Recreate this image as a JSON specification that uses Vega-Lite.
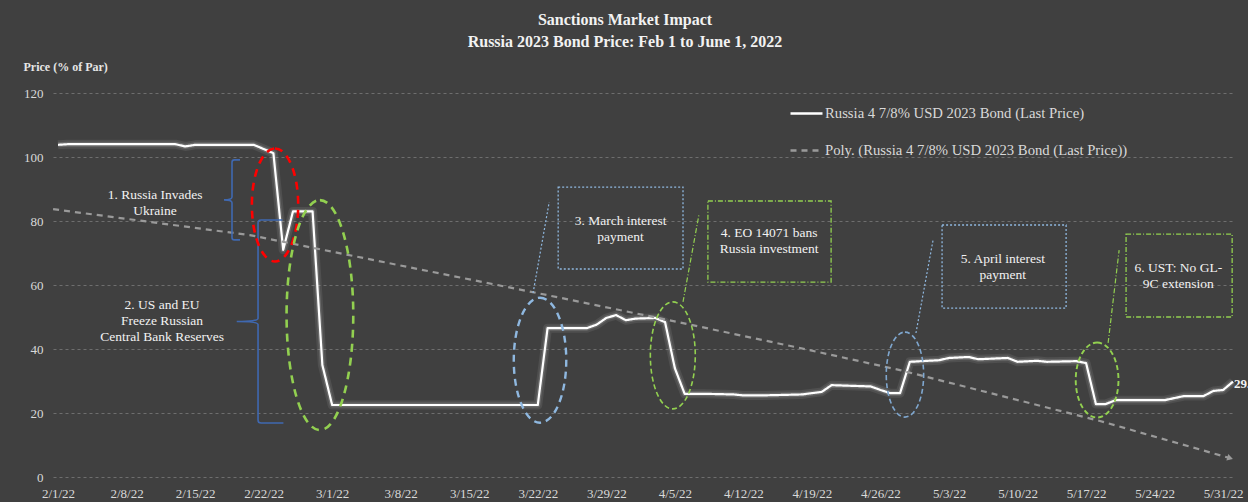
{
  "$schema": "https://vega.github.io/schema/vega-lite/v6.json",
  "width": 1182,
  "height": 384,
  "autosize": {"type": "none"},
  "padding": {"left": 53, "top": 93, "right": 13, "bottom": 25},
  "background": "#404040",
  "title": {
    "text": ["Sanctions Market Impact", "Russia 2023 Bond Price: Feb  1 to June 1, 2022"],
    "font": "Liberation Serif",
    "fontSize": 16,
    "fontWeight": "bold",
    "color": "#f2f2f2",
    "anchor": "middle",
    "frame": "group",
    "dx": -19,
    "offset": 10,
    "lineHeight": 22
  },
  "config": {
    "view": {"stroke": null},
    "axis": {"labelFont": "Liberation Serif", "labelColor": "#d9d9d9", "labelFontSize": 13, "ticks": false, "domain": false}
  },
  "datasets": {
    "series": [
      {"series": "Russia 4 7/8% USD 2023 Bond (Last Price)", "date": "2022-02-01", "value": 103.8},
      {"series": "Russia 4 7/8% USD 2023 Bond (Last Price)", "date": "2022-02-02", "value": 104},
      {"series": "Russia 4 7/8% USD 2023 Bond (Last Price)", "date": "2022-02-04", "value": 104},
      {"series": "Russia 4 7/8% USD 2023 Bond (Last Price)", "date": "2022-02-08", "value": 104},
      {"series": "Russia 4 7/8% USD 2023 Bond (Last Price)", "date": "2022-02-11", "value": 104},
      {"series": "Russia 4 7/8% USD 2023 Bond (Last Price)", "date": "2022-02-13", "value": 104},
      {"series": "Russia 4 7/8% USD 2023 Bond (Last Price)", "date": "2022-02-14", "value": 103.3},
      {"series": "Russia 4 7/8% USD 2023 Bond (Last Price)", "date": "2022-02-15", "value": 103.8},
      {"series": "Russia 4 7/8% USD 2023 Bond (Last Price)", "date": "2022-02-17", "value": 103.8},
      {"series": "Russia 4 7/8% USD 2023 Bond (Last Price)", "date": "2022-02-21", "value": 103.8},
      {"series": "Russia 4 7/8% USD 2023 Bond (Last Price)", "date": "2022-02-22", "value": 102.5},
      {"series": "Russia 4 7/8% USD 2023 Bond (Last Price)", "date": "2022-02-23", "value": 101.2},
      {"series": "Russia 4 7/8% USD 2023 Bond (Last Price)", "date": "2022-02-24", "value": 71},
      {"series": "Russia 4 7/8% USD 2023 Bond (Last Price)", "date": "2022-02-25", "value": 83},
      {"series": "Russia 4 7/8% USD 2023 Bond (Last Price)", "date": "2022-02-27", "value": 83},
      {"series": "Russia 4 7/8% USD 2023 Bond (Last Price)", "date": "2022-02-28", "value": 35},
      {"series": "Russia 4 7/8% USD 2023 Bond (Last Price)", "date": "2022-03-01", "value": 22.5},
      {"series": "Russia 4 7/8% USD 2023 Bond (Last Price)", "date": "2022-03-08", "value": 22.5},
      {"series": "Russia 4 7/8% USD 2023 Bond (Last Price)", "date": "2022-03-15", "value": 22.5},
      {"series": "Russia 4 7/8% USD 2023 Bond (Last Price)", "date": "2022-03-22", "value": 22.5},
      {"series": "Russia 4 7/8% USD 2023 Bond (Last Price)", "date": "2022-03-23", "value": 46.5},
      {"series": "Russia 4 7/8% USD 2023 Bond (Last Price)", "date": "2022-03-25", "value": 46.5},
      {"series": "Russia 4 7/8% USD 2023 Bond (Last Price)", "date": "2022-03-27", "value": 46.5},
      {"series": "Russia 4 7/8% USD 2023 Bond (Last Price)", "date": "2022-03-28", "value": 47.6},
      {"series": "Russia 4 7/8% USD 2023 Bond (Last Price)", "date": "2022-03-29", "value": 49.7},
      {"series": "Russia 4 7/8% USD 2023 Bond (Last Price)", "date": "2022-03-30", "value": 50.6},
      {"series": "Russia 4 7/8% USD 2023 Bond (Last Price)", "date": "2022-03-31", "value": 49},
      {"series": "Russia 4 7/8% USD 2023 Bond (Last Price)", "date": "2022-04-01", "value": 49.5},
      {"series": "Russia 4 7/8% USD 2023 Bond (Last Price)", "date": "2022-04-03", "value": 49.7},
      {"series": "Russia 4 7/8% USD 2023 Bond (Last Price)", "date": "2022-04-04", "value": 48.4},
      {"series": "Russia 4 7/8% USD 2023 Bond (Last Price)", "date": "2022-04-05", "value": 34},
      {"series": "Russia 4 7/8% USD 2023 Bond (Last Price)", "date": "2022-04-06", "value": 26},
      {"series": "Russia 4 7/8% USD 2023 Bond (Last Price)", "date": "2022-04-08", "value": 26},
      {"series": "Russia 4 7/8% USD 2023 Bond (Last Price)", "date": "2022-04-11", "value": 25.8},
      {"series": "Russia 4 7/8% USD 2023 Bond (Last Price)", "date": "2022-04-12", "value": 25.5},
      {"series": "Russia 4 7/8% USD 2023 Bond (Last Price)", "date": "2022-04-14", "value": 25.5},
      {"series": "Russia 4 7/8% USD 2023 Bond (Last Price)", "date": "2022-04-18", "value": 25.8},
      {"series": "Russia 4 7/8% USD 2023 Bond (Last Price)", "date": "2022-04-19", "value": 26.2},
      {"series": "Russia 4 7/8% USD 2023 Bond (Last Price)", "date": "2022-04-20", "value": 26.6},
      {"series": "Russia 4 7/8% USD 2023 Bond (Last Price)", "date": "2022-04-21", "value": 28.7},
      {"series": "Russia 4 7/8% USD 2023 Bond (Last Price)", "date": "2022-04-25", "value": 28.3},
      {"series": "Russia 4 7/8% USD 2023 Bond (Last Price)", "date": "2022-04-26", "value": 27.2},
      {"series": "Russia 4 7/8% USD 2023 Bond (Last Price)", "date": "2022-04-27", "value": 26.2},
      {"series": "Russia 4 7/8% USD 2023 Bond (Last Price)", "date": "2022-04-28", "value": 26.2},
      {"series": "Russia 4 7/8% USD 2023 Bond (Last Price)", "date": "2022-04-29", "value": 36},
      {"series": "Russia 4 7/8% USD 2023 Bond (Last Price)", "date": "2022-05-02", "value": 36.5},
      {"series": "Russia 4 7/8% USD 2023 Bond (Last Price)", "date": "2022-05-03", "value": 37.2},
      {"series": "Russia 4 7/8% USD 2023 Bond (Last Price)", "date": "2022-05-05", "value": 37.5},
      {"series": "Russia 4 7/8% USD 2023 Bond (Last Price)", "date": "2022-05-06", "value": 36.8},
      {"series": "Russia 4 7/8% USD 2023 Bond (Last Price)", "date": "2022-05-09", "value": 37.2},
      {"series": "Russia 4 7/8% USD 2023 Bond (Last Price)", "date": "2022-05-10", "value": 36},
      {"series": "Russia 4 7/8% USD 2023 Bond (Last Price)", "date": "2022-05-12", "value": 36.3},
      {"series": "Russia 4 7/8% USD 2023 Bond (Last Price)", "date": "2022-05-13", "value": 36},
      {"series": "Russia 4 7/8% USD 2023 Bond (Last Price)", "date": "2022-05-16", "value": 36.2},
      {"series": "Russia 4 7/8% USD 2023 Bond (Last Price)", "date": "2022-05-17", "value": 35.6},
      {"series": "Russia 4 7/8% USD 2023 Bond (Last Price)", "date": "2022-05-18", "value": 22.8},
      {"series": "Russia 4 7/8% USD 2023 Bond (Last Price)", "date": "2022-05-19", "value": 22.8},
      {"series": "Russia 4 7/8% USD 2023 Bond (Last Price)", "date": "2022-05-20", "value": 24},
      {"series": "Russia 4 7/8% USD 2023 Bond (Last Price)", "date": "2022-05-25", "value": 24},
      {"series": "Russia 4 7/8% USD 2023 Bond (Last Price)", "date": "2022-05-27", "value": 25.3},
      {"series": "Russia 4 7/8% USD 2023 Bond (Last Price)", "date": "2022-05-29", "value": 25.3},
      {"series": "Russia 4 7/8% USD 2023 Bond (Last Price)", "date": "2022-05-30", "value": 26.9},
      {"series": "Russia 4 7/8% USD 2023 Bond (Last Price)", "date": "2022-05-31", "value": 27.2},
      {"series": "Russia 4 7/8% USD 2023 Bond (Last Price)", "date": "2022-06-01", "value": 29.8},
      {"series": "Poly. (Russia 4 7/8% USD 2023 Bond (Last Price))", "date": "2022-01-31T12:00:00Z", "value": 83.7},
      {"series": "Poly. (Russia 4 7/8% USD 2023 Bond (Last Price))", "date": "2022-02-20T14:00:00Z", "value": 75.6},
      {"series": "Poly. (Russia 4 7/8% USD 2023 Bond (Last Price))", "date": "2022-03-21T22:00:00Z", "value": 57.5},
      {"series": "Poly. (Russia 4 7/8% USD 2023 Bond (Last Price))", "date": "2022-04-05T12:00:00Z", "value": 48.3},
      {"series": "Poly. (Russia 4 7/8% USD 2023 Bond (Last Price))", "date": "2022-04-17T19:00:00Z", "value": 40.3},
      {"series": "Poly. (Russia 4 7/8% USD 2023 Bond (Last Price))", "date": "2022-04-28T00:00:00Z", "value": 33.4},
      {"series": "Poly. (Russia 4 7/8% USD 2023 Bond (Last Price))", "date": "2022-05-18T10:00:00Z", "value": 17.5},
      {"series": "Poly. (Russia 4 7/8% USD 2023 Bond (Last Price))", "date": "2022-05-31T17:00:00Z", "value": 5.9}
    ],
    "notes": [
      {"id": "t1", "date": "2022-02-10T22:00:00Z", "value": 88.1, "label": "1. Russia Invades\nUkraine"},
      {"id": "t2", "date": "2022-02-11T15:00:00Z", "value": 53.75, "label": "2. US and EU\nFreeze Russian\nCentral Bank Reserves"},
      {"id": "t3", "date": "2022-03-30T11:00:00Z", "value": 80, "label": "3. March interest\npayment"},
      {"id": "t4", "date": "2022-04-14T15:00:00Z", "value": 76.25, "label": "4. EO 14071 bans\nRussia investment"},
      {"id": "t5", "date": "2022-05-08T12:00:00Z", "value": 68.1, "label": "5. April interest\npayment"},
      {"id": "t6", "date": "2022-05-26T10:00:00Z", "value": 65.3, "label": "6. UST: No GL-\n9C extension"},
      {"id": "brace1", "date": "2022-02-18T18:30:00Z", "value": 86.6},
      {"id": "brace2", "date": "2022-02-21T10:20:00Z", "value": 48.6},
      {"id": "ell1", "date": "2022-02-23T04:00:00Z", "value": 85},
      {"id": "ell2", "date": "2022-02-27T18:00:00Z", "value": 50.6},
      {"id": "ell3", "date": "2022-03-22T05:30:00Z", "value": 36.5},
      {"id": "ell4", "date": "2022-04-04T19:00:00Z", "value": 38},
      {"id": "ell5", "date": "2022-04-28T12:00:00Z", "value": 32},
      {"id": "ell6", "date": "2022-05-18T03:00:00Z", "value": 30.3},
      {"id": "boxblue", "date": "2022-03-24T02:00:00Z", "date2": "2022-04-05T20:00:00Z", "value": 90.6, "value2": 65},
      {"id": "boxgreen", "date": "2022-04-08T09:00:00Z", "date2": "2022-04-20T23:00:00Z", "value": 86.25, "value2": 60.9},
      {"id": "boxblue", "date": "2022-05-02T07:00:00Z", "date2": "2022-05-14T23:00:00Z", "value": 78.75, "value2": 52.8},
      {"id": "boxgreen", "date": "2022-05-21T02:00:00Z", "date2": "2022-05-31T22:00:00Z", "value": 75.9, "value2": 50},
      {"id": "leadblue", "date": "2022-03-21T12:30:00Z", "date2": "2022-03-23T04:00:00Z", "value": 57.5, "value2": 85.9},
      {"id": "leadgreen", "date": "2022-04-05T20:00:00Z", "date2": "2022-04-07T11:00:00Z", "value": 54.7, "value2": 81.9},
      {"id": "leadblue", "date": "2022-04-29T15:00:00Z", "date2": "2022-05-01T09:00:00Z", "value": 45, "value2": 74.1},
      {"id": "leadgreen", "date": "2022-05-19T06:00:00Z", "date2": "2022-05-20T09:00:00Z", "value": 41.9, "value2": 70.9},
      {"id": "arrow", "date": "2022-05-31T17:00:00Z", "value": 5.9}
    ]
  },
  "encoding": {
    "x": {
      "field": "date",
      "type": "temporal",
      "scale": {
        "type": "utc",
        "domain": [
          {"year": 2022, "month": 1, "date": 31, "hours": 11, "minutes": 45, "utc": true},
          {"year": 2022, "month": 6, "date": 1, "hours": 5, "utc": true}
        ]
      },
      "axis": {
        "title": null,
        "grid": false,
        "labelExpr": "utcFormat(datum.value, '%-m/%-d/%y')",
        "labelPadding": 10,
        "labelAngle": 0,
        "labelOverlap": false,
        "values": [
          {"year": 2022, "month": 2, "date": 1, "utc": true},
          {"year": 2022, "month": 2, "date": 8, "utc": true},
          {"year": 2022, "month": 2, "date": 15, "utc": true},
          {"year": 2022, "month": 2, "date": 22, "utc": true},
          {"year": 2022, "month": 3, "date": 1, "utc": true},
          {"year": 2022, "month": 3, "date": 8, "utc": true},
          {"year": 2022, "month": 3, "date": 15, "utc": true},
          {"year": 2022, "month": 3, "date": 22, "utc": true},
          {"year": 2022, "month": 3, "date": 29, "utc": true},
          {"year": 2022, "month": 4, "date": 5, "utc": true},
          {"year": 2022, "month": 4, "date": 12, "utc": true},
          {"year": 2022, "month": 4, "date": 19, "utc": true},
          {"year": 2022, "month": 4, "date": 26, "utc": true},
          {"year": 2022, "month": 5, "date": 3, "utc": true},
          {"year": 2022, "month": 5, "date": 10, "utc": true},
          {"year": 2022, "month": 5, "date": 17, "utc": true},
          {"year": 2022, "month": 5, "date": 24, "utc": true},
          {"year": 2022, "month": 5, "date": 31, "utc": true}
        ]
      }
    },
    "y": {
      "field": "value",
      "type": "quantitative",
      "scale": {"domain": [0, 120], "nice": false, "zero": true},
      "axis": {
        "title": "Price (% of Par)",
        "titleAngle": 0,
        "titleAlign": "left",
        "titleBaseline": "middle",
        "titleX": -30,
        "titleY": -27,
        "titleFont": "Liberation Serif",
        "titleFontSize": 12,
        "titleFontWeight": "bold",
        "titleColor": "#e6e6e6",
        "values": [0, 20, 40, 60, 80, 100, 120],
        "labelPadding": 10,
        "grid": true,
        "gridColor": "#6e6e6e",
        "gridDash": [3, 3],
        "gridWidth": 1
      }
    }
  },
  "layer": [
    {
      "data": {"name": "series"},
      "transform": [{"filter": "datum.series == 'Russia 4 7/8% USD 2023 Bond (Last Price)'"}],
      "mark": {"type": "line", "color": "#ffffff", "strokeWidth": 9, "opacity": 0.08, "strokeJoin": "round"}
    },
    {
      "data": {"name": "series"},
      "transform": [{"filter": "datum.series == 'Russia 4 7/8% USD 2023 Bond (Last Price)'"}],
      "mark": {"type": "line", "color": "#ffffff", "strokeWidth": 5, "opacity": 0.15, "strokeJoin": "round"}
    },
    {
      "data": {"name": "series"},
      "mark": {"type": "line", "strokeWidth": 2.2, "strokeJoin": "round"},
      "encoding": {
        "detail": {"field": "series"},
        "color": {
          "field": "series",
          "type": "nominal",
          "scale": {
            "domain": ["Russia 4 7/8% USD 2023 Bond (Last Price)", "Poly. (Russia 4 7/8% USD 2023 Bond (Last Price))"],
            "range": ["#ffffff", "#9a9a9a"]
          },
          "legend": {
            "title": null, "orient": "none", "legendX": 736, "legendY": 3, "direction": "vertical",
            "symbolType": "stroke", "symbolSize": 1024, "symbolStrokeWidth": 2.5,
            "labelFont": "Liberation Serif", "labelFontSize": 14.7, "labelColor": "#d9d9d9",
            "labelLimit": 500, "rowPadding": 12, "labelOffset": 1
          }
        },
        "strokeDash": {
          "field": "series",
          "type": "nominal",
          "scale": {
            "domain": ["Russia 4 7/8% USD 2023 Bond (Last Price)", "Poly. (Russia 4 7/8% USD 2023 Bond (Last Price))"],
            "range": [[1, 0], [6, 5]]
          },
          "legend": {
            "title": null, "orient": "none", "legendX": 736, "legendY": 3, "direction": "vertical",
            "symbolType": "stroke", "symbolSize": 1024, "symbolStrokeWidth": 2.5,
            "labelFont": "Liberation Serif", "labelFontSize": 14.7, "labelColor": "#d9d9d9",
            "labelLimit": 500, "rowPadding": 12, "labelOffset": 1
          }
        }
      }
    },
    {
      "data": {"name": "series"},
      "transform": [{"filter": "datum.series == 'Russia 4 7/8% USD 2023 Bond (Last Price)' && time(datum.date) > utc(2022, 4, 31, 12)"}],
      "mark": {"type": "text", "align": "left", "baseline": "middle", "dx": 1, "dy": 2, "font": "Liberation Serif", "fontSize": 13, "fontWeight": "bold", "color": "#f2f2f2"},
      "encoding": {"text": {"field": "value", "type": "quantitative", "format": ".1f"}}
    },
    {
      "data": {"name": "notes"},
      "transform": [{"filter": "datum.id == 'arrow'"}],
      "mark": {"type": "point", "shape": "triangle-right", "filled": true, "size": 45, "angle": 17, "color": "#9a9a9a", "opacity": 1}
    },
    {
      "data": {"name": "notes"},
      "transform": [{"filter": "datum.id == 'brace1'"}],
      "mark": {"type": "point", "shape": "M0.2,-1L0.06,-1Q0,-1,0,-0.94L0,-0.07Q0,0,-0.2,0Q0,0,0,0.07L0,0.94Q0,1,0.06,1L0.2,1", "size": 6400, "filled": false, "stroke": "#3f68b0", "strokeWidth": 1.6, "opacity": 1}
    },
    {
      "data": {"name": "notes"},
      "transform": [{"filter": "datum.id == 'brace2'"}],
      "mark": {"type": "point", "shape": "M0.24,-1L0.03,-1Q0,-1,0,-0.97L0,-0.03Q0,0,-0.21,0Q0,0,0,0.03L0,0.97Q0,1,0.03,1L0.25,1", "size": 41209, "filled": false, "stroke": "#3f68b0", "strokeWidth": 1.6, "opacity": 1}
    },
    {
      "data": {"name": "notes"},
      "transform": [{"filter": "datum.id == 'ell1'"}],
      "mark": {"type": "point", "shape": "M0,-1C0.226,-1,0.41,-0.552,0.41,0C0.41,0.552,0.226,1,0,1C-0.226,1,-0.41,0.552,-0.41,0C-0.41,-0.552,-0.226,-1,0,-1Z", "size": 12769, "filled": false, "stroke": "#ff0000", "strokeWidth": 2.6, "strokeDash": [8, 6], "opacity": 1}
    },
    {
      "data": {"name": "notes"},
      "transform": [{"filter": "datum.id == 'ell2'"}],
      "mark": {"type": "point", "shape": "M0,-1C0.16,-1,0.29,-0.552,0.29,0C0.29,0.552,0.16,1,0,1C-0.16,1,-0.29,0.552,-0.29,0C-0.29,-0.552,-0.16,-1,0,-1Z", "size": 52900, "filled": false, "stroke": "#92d050", "strokeWidth": 2.6, "strokeDash": [8, 6], "opacity": 1}
    },
    {
      "data": {"name": "notes"},
      "transform": [{"filter": "datum.id == 'ell3'"}],
      "mark": {"type": "point", "shape": "M0,-1C0.232,-1,0.42,-0.552,0.42,0C0.42,0.552,0.232,1,0,1C-0.232,1,-0.42,0.552,-0.42,0C-0.42,-0.552,-0.232,-1,0,-1Z", "size": 15625, "filled": false, "stroke": "#8fb8e0", "strokeWidth": 2.4, "strokeDash": [7, 5], "opacity": 1}
    },
    {
      "data": {"name": "notes"},
      "transform": [{"filter": "datum.id == 'ell4'"}],
      "mark": {"type": "point", "shape": "M0,-1C0.232,-1,0.42,-0.552,0.42,0C0.42,0.552,0.232,1,0,1C-0.232,1,-0.42,0.552,-0.42,0C-0.42,-0.552,-0.232,-1,0,-1Z", "size": 11449, "filled": false, "stroke": "#92d050", "strokeWidth": 1.6, "strokeDash": [5, 3], "opacity": 1}
    },
    {
      "data": {"name": "notes"},
      "transform": [{"filter": "datum.id == 'ell5'"}],
      "mark": {"type": "point", "shape": "M0,-1C0.243,-1,0.44,-0.552,0.44,0C0.44,0.552,0.243,1,0,1C-0.243,1,-0.44,0.552,-0.44,0C-0.44,-0.552,-0.243,-1,0,-1Z", "size": 7225, "filled": false, "stroke": "#7fa7cf", "strokeWidth": 1.6, "strokeDash": [5, 3], "opacity": 1}
    },
    {
      "data": {"name": "notes"},
      "transform": [{"filter": "datum.id == 'ell6'"}],
      "mark": {"type": "point", "shape": "M0,-1C0.315,-1,0.57,-0.552,0.57,0C0.57,0.552,0.315,1,0,1C-0.315,1,-0.57,0.552,-0.57,0C-0.57,-0.552,-0.315,-1,0,-1Z", "size": 5625, "filled": false, "stroke": "#92d050", "strokeWidth": 1.9, "strokeDash": [5, 3], "opacity": 1}
    },
    {
      "data": {"name": "notes"},
      "transform": [{"filter": "datum.id == 'boxblue'"}],
      "mark": {"type": "rect", "filled": false, "stroke": "#8fb8e0", "strokeWidth": 1.3, "strokeDash": [2, 2]},
      "encoding": {"x2": {"field": "date2"}, "y2": {"field": "value2"}}
    },
    {
      "data": {"name": "notes"},
      "transform": [{"filter": "datum.id == 'boxgreen'"}],
      "mark": {"type": "rect", "filled": false, "stroke": "#92d050", "strokeWidth": 1.3, "strokeDash": [5, 2, 1, 2]},
      "encoding": {"x2": {"field": "date2"}, "y2": {"field": "value2"}}
    },
    {
      "data": {"name": "notes"},
      "transform": [{"filter": "datum.id == 'leadblue'"}],
      "mark": {"type": "rule", "stroke": "#8fb8e0", "strokeWidth": 1.2, "strokeDash": [2, 2]},
      "encoding": {"x2": {"field": "date2"}, "y2": {"field": "value2"}}
    },
    {
      "data": {"name": "notes"},
      "transform": [{"filter": "datum.id == 'leadgreen'"}],
      "mark": {"type": "rule", "stroke": "#92d050", "strokeWidth": 1.2, "strokeDash": [5, 2, 1, 2]},
      "encoding": {"x2": {"field": "date2"}, "y2": {"field": "value2"}}
    },
    {
      "data": {"name": "notes"},
      "transform": [{"filter": "indexof(datum.id, 't') == 0"}],
      "mark": {"type": "text", "align": "center", "baseline": "middle", "lineBreak": "\n", "lineHeight": 16, "font": "Liberation Serif", "fontSize": 13.5, "color": "#f2f2f2"},
      "encoding": {"text": {"field": "label", "type": "nominal"}}
    }
  ]
}
